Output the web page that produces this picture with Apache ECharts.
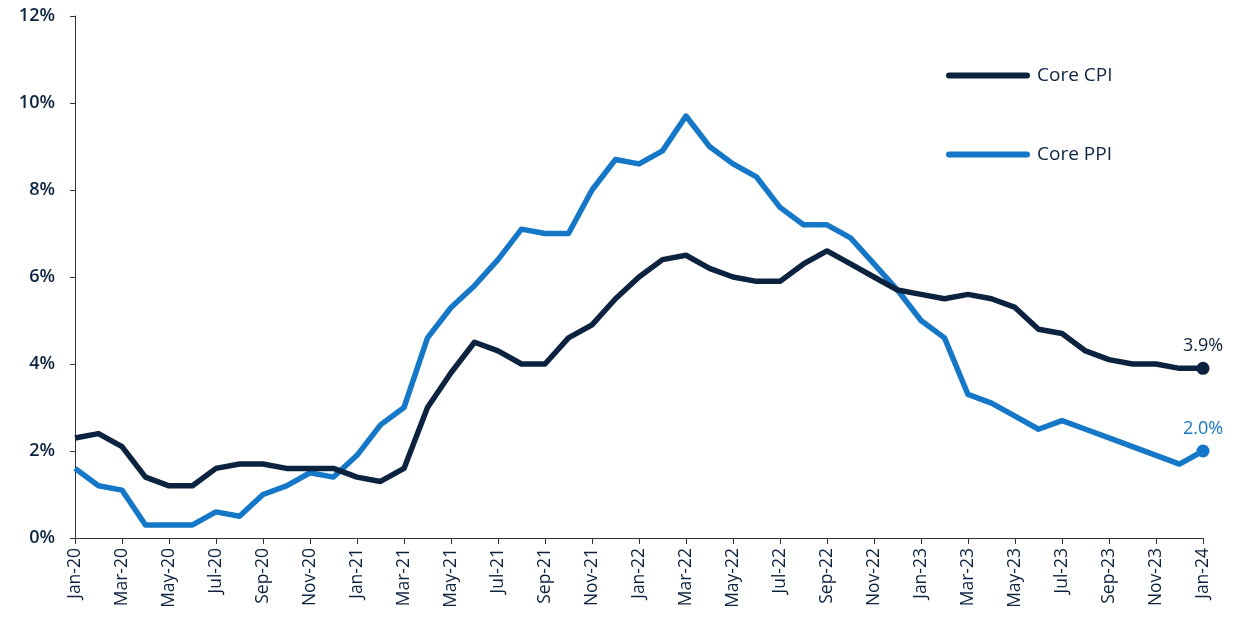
<!DOCTYPE html>
<html>
<head>
<meta charset="utf-8">
<script src="https://cdn.jsdelivr.net/npm/echarts@6/dist/echarts.min.js"></script>
<style>
  html, body { margin: 0; padding: 0; background: #fff; }
  #chart { width: 1250px; height: 632px; }
</style>
</head>
<body>
<div id="chart"></div>
<script>
// months Jan-20 .. Jan-24
const months = [
  "Jan-20","Feb-20","Mar-20","Apr-20","May-20","Jun-20","Jul-20","Aug-20","Sep-20","Oct-20","Nov-20","Dec-20",
  "Jan-21","Feb-21","Mar-21","Apr-21","May-21","Jun-21","Jul-21","Aug-21","Sep-21","Oct-21","Nov-21","Dec-21",
  "Jan-22","Feb-22","Mar-22","Apr-22","May-22","Jun-22","Jul-22","Aug-22","Sep-22","Oct-22","Nov-22","Dec-22",
  "Jan-23","Feb-23","Mar-23","Apr-23","May-23","Jun-23","Jul-23","Aug-23","Sep-23","Oct-23","Nov-23","Dec-23",
  "Jan-24"
];

const coreCPI = [
  2.3, 2.4, 2.1, 1.4, 1.2, 1.2, 1.6, 1.7, 1.7, 1.6, 1.6, 1.6,
  1.4, 1.3, 1.6, 3.0, 3.8, 4.5, 4.3, 4.0, 4.0, 4.6, 4.9, 5.5,
  6.0, 6.4, 6.5, 6.2, 6.0, 5.9, 5.9, 6.3, 6.6, 6.3, 6.0, 5.7,
  5.6, 5.5, 5.6, 5.5, 5.3, 4.8, 4.7, 4.3, 4.1, 4.0, 4.0, 3.9,
  3.9
];

const corePPI = [
  1.6, 1.2, 1.1, 0.3, 0.3, 0.3, 0.6, 0.5, 1.0, 1.2, 1.5, 1.4,
  1.9, 2.6, 3.0, 4.6, 5.3, 5.8, 6.4, 7.1, 7.0, 7.0, 8.0, 8.7,
  8.6, 8.9, 9.7, 9.0, 8.6, 8.3, 7.6, 7.2, 7.2, 6.9, 6.3, 5.7,
  5.0, 4.6, 3.3, 3.1, 2.8, 2.5, 2.7, 2.5, 2.3, 2.1, 1.9, 1.7,
  2.0
];

const NAVY = "#0c2340";
const BLUE = "#1477c7";
const FONT = "'Open Sans', 'Noto Sans', sans-serif";

// only the last point gets a dot + label
function withEndPoint(arr, color) {
  return arr.map((v, i) => {
    if (i !== arr.length - 1) return v;
    return {
      value: v,
      symbol: "circle",
      symbolSize: 13,
      label: {
        show: true,
        position: "top",
        distance: 7,
        formatter: (p) => p.value.toFixed(1) + "%",
        color: color,
        fontFamily: FONT,
        fontSize: 18,
        fontWeight: 500
      }
    };
  });
}

const legendIcon = "path://M3,0 H81 A3,3 0 0 1 81,6 H3 A3,3 0 0 1 3,0 Z";

let myChart = echarts.init(document.getElementById("chart"));
let option = {
  animation: false,
  backgroundColor: "#fff",
  grid: { left: 75, right: 47, top: 16, bottom: 94, containLabel: false },
  legend: {
    orient: "vertical",
    left: 941,
    top: 61,
    itemWidth: 84,
    itemHeight: 6,
    itemGap: 60,
    icon: legendIcon,
    textStyle: { color: NAVY, fontFamily: FONT, fontSize: 19, fontWeight: 500, padding: [0, 0, 0, 2] },
    data: [
      { name: "Core CPI", itemStyle: { color: NAVY } },
      { name: "Core PPI", itemStyle: { color: BLUE } }
    ]
  },
  xAxis: {
    type: "category",
    data: months,
    boundaryGap: false,
    axisLine: { lineStyle: { color: "#333", width: 1 } },
    axisTick: { show: true, interval: 1, length: 6, lineStyle: { color: "#333" } },
    axisLabel: {
      interval: 1,
      rotate: 90,
      margin: 10,
      color: NAVY,
      fontFamily: FONT,
      fontSize: 17.5,
      fontWeight: 500
    },
    splitLine: { show: false }
  },
  yAxis: {
    type: "value",
    min: 0,
    max: 12,
    interval: 2,
    axisLine: { show: true, lineStyle: { color: "#333", width: 1 } },
    axisTick: { show: true, length: 5, lineStyle: { color: "#333" } },
    axisLabel: {
      formatter: "{value}%",
      margin: 20,
      color: NAVY,
      fontFamily: FONT,
      fontSize: 18,
      fontWeight: 600
    },
    splitLine: { show: false }
  },
  series: [
    {
      name: "Core CPI",
      type: "line",
      symbol: "none",
      showAllSymbol: true,
      data: withEndPoint(coreCPI, NAVY),
      itemStyle: { color: NAVY },
      lineStyle: { color: NAVY, width: 5.5, join: "round" },
      z: 3
    },
    {
      name: "Core PPI",
      type: "line",
      symbol: "none",
      showAllSymbol: true,
      data: withEndPoint(corePPI, BLUE),
      itemStyle: { color: BLUE },
      lineStyle: { color: BLUE, width: 5.5, join: "round" },
      z: 2
    }
  ]
};
myChart.setOption(option);
</script>
</body>
</html>
